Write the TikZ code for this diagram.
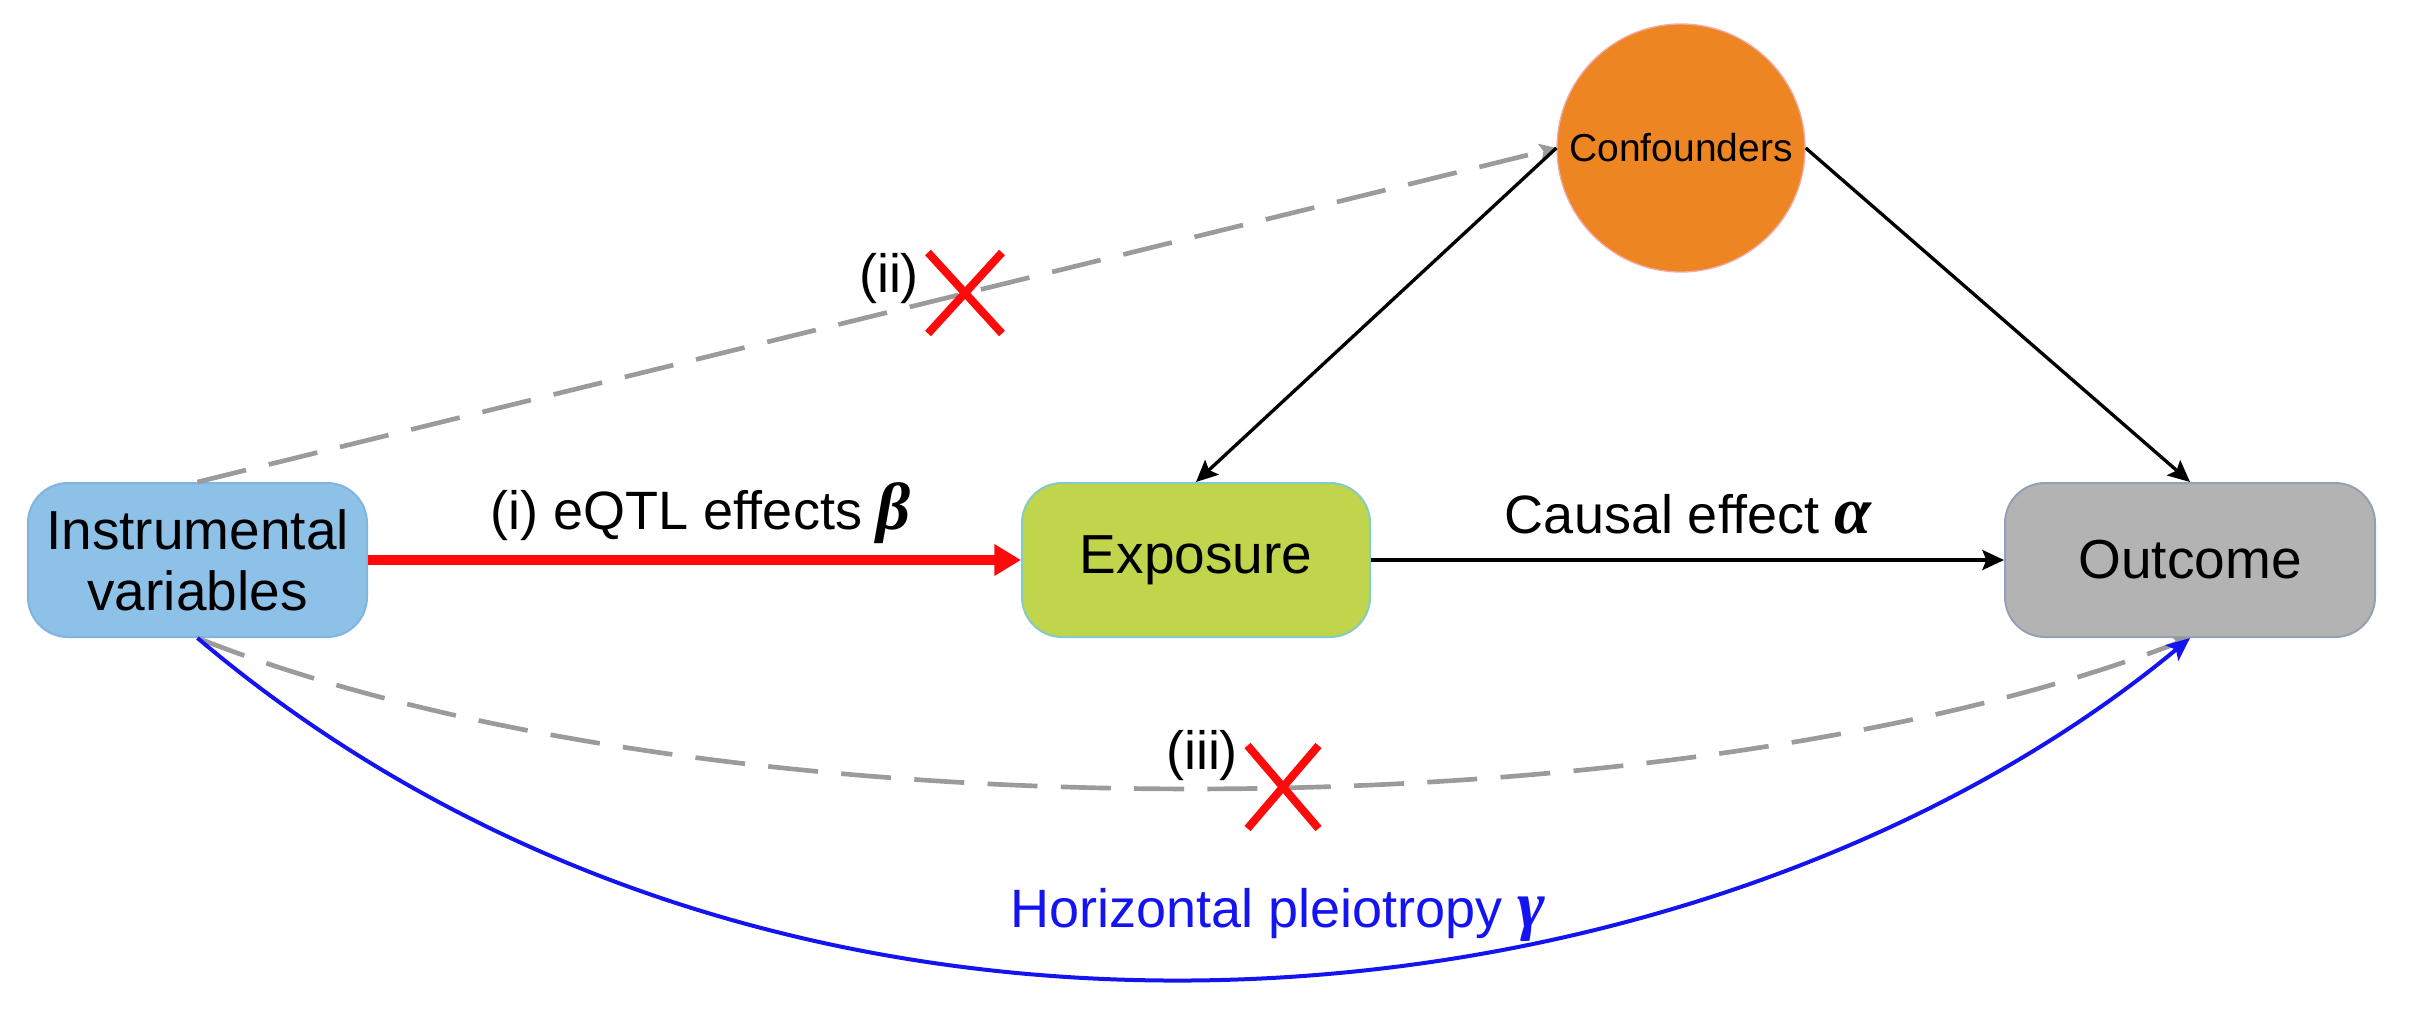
\documentclass[tikz,border=0pt]{standalone}
\usepackage{fontspec}
\setmainfont{Liberation Sans}
\newfontfamily\gk{Liberation Serif}
\usetikzlibrary{arrows.meta,shapes.misc}
\definecolor{ivblue}{RGB}{141,193,232}
\definecolor{ivedge}{RGB}{130,180,225}
\definecolor{expgreen}{RGB}{192,212,76}
\definecolor{expedge}{RGB}{130,205,195}
\definecolor{outgray}{RGB}{179,179,179}
\definecolor{outedge}{RGB}{150,160,180}
\definecolor{conforange}{RGB}{238,133,35}
\definecolor{confedge}{RGB}{240,170,170}
\definecolor{dashgray}{RGB}{155,155,155}
\definecolor{xred}{RGB}{255,10,10}
\definecolor{pleioblue}{RGB}{20,20,240}
\newcommand{\gb}[1]{{\gk\bfseries\itshape\fontsize{20}{20}\selectfont #1}}
\begin{document}
\begin{tikzpicture}[x=0.3pt,y=-0.3pt,
  box/.style={rectangle, rounded corners=12pt, inner sep=0pt, minimum height=46.2pt,
    align=center, font=\fontsize{16.5}{18.3}\selectfont, line width=0.6pt},
  lbl/.style={inner sep=0pt, font=\fontsize{16.2}{18}\selectfont},
  blackarrow/.style={draw=black, line width=1pt, -{Stealth[length=6.5pt,width=6pt,inset=1.2pt]}},
  grayarrow/.style={draw=dashgray, line width=1.4pt, dash pattern=on 15pt off 7pt,
    -{Stealth[length=5pt,width=5pt,inset=1pt]}},
  crossmark/.style={cross out, draw=xred, line width=2.4pt, inner sep=0pt}
]
\useasboundingbox (0,0) rectangle (2412,1014);

% nodes
\node[box, fill=ivblue, draw=ivedge, minimum width=101.7pt] (iv) at (197.5,560)
  {Instrumental\\variables};
\node[box, fill=expgreen, draw=expedge, minimum width=104.4pt] (exp) at (1196,560) {Exposure};
\node[box, fill=outgray, draw=outedge, minimum width=111pt] (out) at (2190,560) {Outcome};
\node[circle, fill=conforange, draw=confedge, line width=0.4pt, minimum size=74.4pt, inner sep=0pt,
  font=\fontsize{11.7}{13}\selectfont] (conf) at (1681,148) {Confounders};

% dashed paths
\draw[grayarrow] (iv.north) -- (conf.west);
\draw[grayarrow] (iv.south) .. controls (709,841) and (1679,836) .. (out.south);

% main arrows
\draw[draw=xred, line width=3pt, -{Triangle[length=8pt,width=9pt]}] (iv.east) -- (exp.west);
\draw[blackarrow] (exp.east) -- (out.west);
\draw[blackarrow] (conf.west) -- (exp.north);
\draw[blackarrow] (conf.east) -- (out.north);

% pleiotropy
\draw[draw=pleioblue, line width=1.2pt, -{Stealth[length=7pt,width=6pt,inset=1.5pt]}]
  (iv.south) .. controls (798,1147) and (1710,1036) .. (out.south);

% crosses
\node[crossmark, minimum width=19.8pt, minimum height=21.9pt] (x2) at (965,293) {};
\node[crossmark, minimum width=18.9pt, minimum height=22.5pt] (x3) at (1283,787) {};

% labels
\node[lbl, anchor=base] (l1) at (701,529) {(i) eQTL effects \gb{β}};
\node[lbl, anchor=base] (l2) at (1688,533) {Causal effect \gb{α}};
\node[lbl, anchor=base, text=pleioblue] (l3) at (1278,927) {Horizontal pleiotropy \gb{γ}};
\node[lbl, anchor=base] (l4) at (889,292) {(ii)};
\node[lbl, anchor=base] (l5) at (1202,769) {(iii)};
\end{tikzpicture}
\end{document}
